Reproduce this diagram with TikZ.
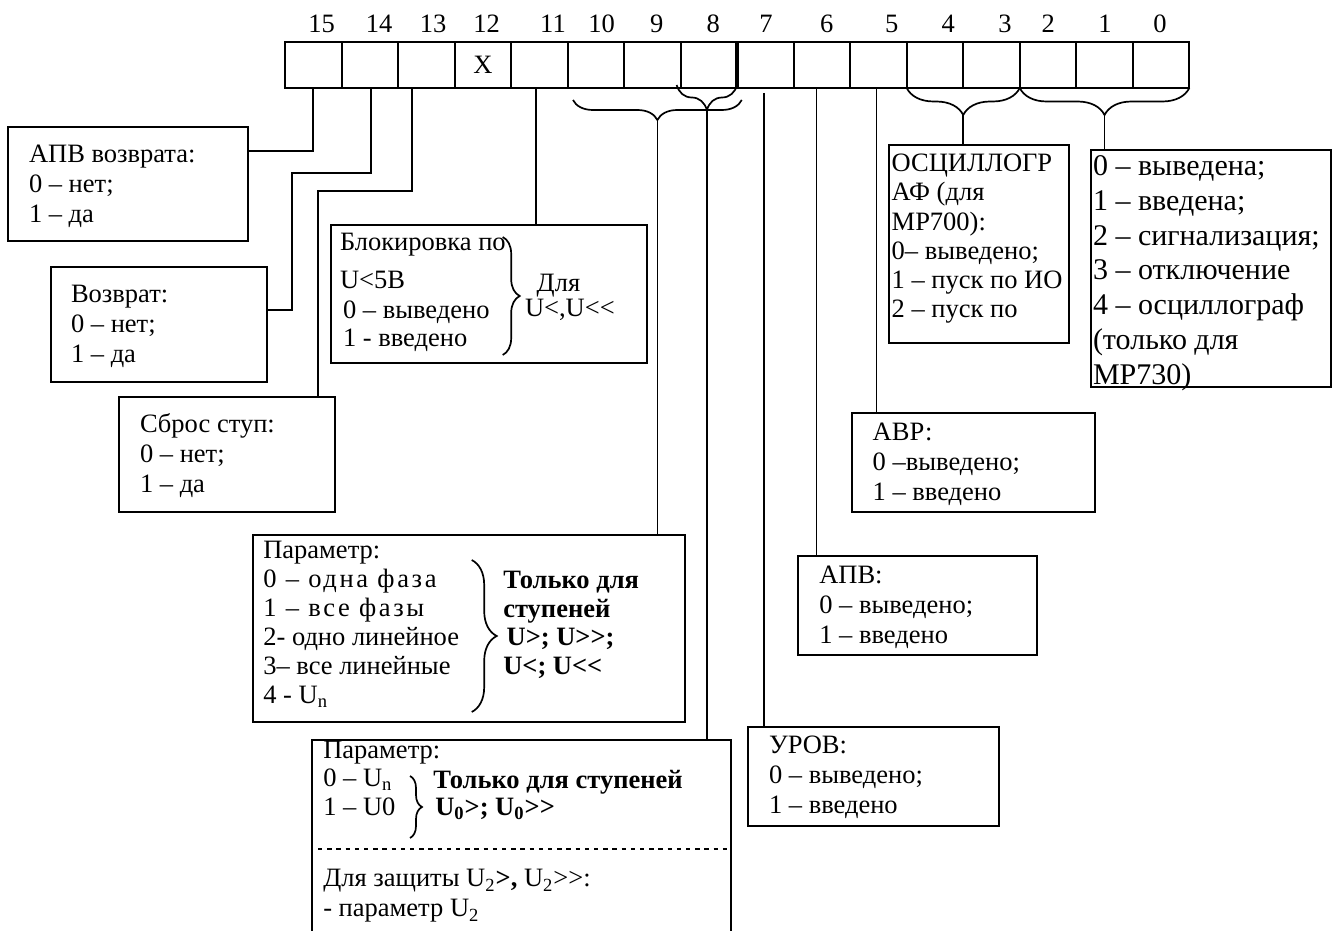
\documentclass[tikz,border=0pt]{standalone}
\usepackage{fontspec}
\setmainfont{Liberation Serif}
\usetikzlibrary{decorations.pathreplacing,fit,calc}
\newcommand{\bodyfnt}{\fontsize{13.25}{15}\selectfont}
\begin{document}
\begin{tikzpicture}[x=0.5pt,y=-0.5pt,
  every node/.style={font=\bodyfnt, inner sep=0pt, outer sep=0pt},
  box/.style={draw, line width=1pt, inner sep=0pt},
  cell/.style={draw, line width=1pt, minimum width=28.26pt, minimum height=23pt},
  conn/.style={line width=0.85pt},
  txt/.style={anchor=base west, align=left},
  lbl/.style={anchor=base},
  br/.style={decorate, decoration={brace, amplitude=#1}, line width=0.85pt}
]
\useasboundingbox (0,0) rectangle (1335,931);

% register
\foreach \i in {0,...,15}{
  \pgfmathsetmacro\cx{285+(15-\i)*56.52+28.26}
  \node[cell] (b\i) at (\cx,65) {};
}
\node (x12) at (b12.center) {X};
\draw[line width=2pt] (b8.north east) -- (b8.south east);

% bit labels
\foreach \i/\x in {15/321.7,14/379,13/433,12/486.7,11/553,10/601.7,9/656.7,8/713.3,7/766,6/826.7,5/891.7,4/948.3,3/1005,2/1048.3,1/1105,0/1160}{
  \node[lbl] (l\i) at (\x,33) {\i};
}

% braces under the register
\draw[br=12.5pt] ([yshift=1.5pt]b8.south east) -- ([xshift=-2pt,yshift=1.5pt]b8.south west);
\draw[br=10pt] ([xshift=2.3pt,yshift=-6pt]b8.south east) -- ([xshift=2.7pt,yshift=-6pt]b10.south west);
\draw[br=13.5pt] (b3.south east) -- (b4.south west);
\draw[br=13.5pt] (b0.south east) -- (b2.south west);
\coordinate (t8) at (707,110);
\coordinate (t10) at (657.5,120);
\coordinate (t43) at (963.3,115);
\coordinate (t20) at (1104.6,115);

% boxes
\node[box, fit={(8,127) (248,241)}] (apvv) {};
\node[box, fit={(51,267) (267,382)}] (vozv) {};
\node[box, fit={(119,397) (335,512)}] (sbros) {};
\node[box, fit={(331,225) (647,363)}] (blok) {};
\node[box, fit={(889,145) (1069,343)}] (osc) {};
\node[box, fit={(1091,150) (1331,386.7)}] (rej) {};
\node[box, fit={(852,413) (1095,512)}] (avr) {};
\node[box, fit={(798,556) (1037,655)}] (apv) {};
\node[box, fit={(748,727) (999,826)}] (urov) {};
\node[box, fit={(253,535) (685,721.7)}] (par1) {};
\node[fit={(312,740) (731,931)}, inner sep=0pt] (par2) {};
\draw[line width=1pt] (par2.south west) -- (par2.north west) -- (par2.north east) -- (par2.south east);

% texts (anchor = baseline of the last line)
\node[txt] (apvv-t) at (29,222.7) {АПВ возврата:\\0 – нет;\\1 – да};
\node[txt] (vozv-t) at (71,362.7) {Возврат:\\0 – нет;\\1 – да};
\node[txt] (sbros-t) at (140,492) {Сброс ступ:\\0 – нет;\\1 – да};

\node[txt] (bl1) at (340,250) {Блокировка по};
\node[txt] (bl2) at (340,288) {U<5В};
\node[txt] (bl3) at (343,318) {0 – выведено};
\node[txt] (bl4) at (343,346.7) {1 - введено};
\draw[br=8.5pt] (502.7,237) -- (502.7,355);
\node[txt] (bl5) at (536.7,291.7) {Для};
\node[txt] (bl6) at (525,316) {U<,U<{}<};

\node[txt, font=\fontsize{13.25}{14.6}\selectfont] (osc-t) at (891.7,317.7)
  {ОСЦИЛЛОГР\\АФ (для\\МР700):\\0– выведено;\\1 – пуск по ИО\\2 – пуск по};
\node[txt, font=\fontsize{15}{17.35}\selectfont] (rej-t) at (1093,384)
  {0 – выведена;\\1 – введена;\\2 – сигнализация;\\3 – отключение\\4 – осциллограф\\(только для\\МР730)};

\node[txt] (avr-t) at (872.7,500.7) {АВР:\\0 –выведено;\\1 – введено};
\node[txt] (apv-t) at (819.3,643.3) {АПВ:\\0 – выведено;\\1 – введено};
\node[txt] (urov-t) at (769,813.3) {УРОВ:\\0 – выведено;\\1 – введено};

\node[txt, font=\fontsize{13.25}{14.5}\selectfont] (par1-t) at (263.3,703.3)
  {Параметр:\\{\addfontfeature{LetterSpace=10}0 – одна фаза}\\{\addfontfeature{LetterSpace=10}1 – все фазы}\\2- одно линейное\\3– все линейные\\4 - U\textsubscript{n}};
\draw[br=12.5pt] (471.7,560) -- (471.7,712);
\node[txt, font=\fontsize{13.25}{14.4}\selectfont\bfseries] (par1-b) at (503.3,674.7)
  {Только для\\ступеней\\\hspace{1.7pt}U>; U>{}>;\\U<; U<{}<};

\node[txt, font=\fontsize{13.25}{14.2}\selectfont] (par2-t) at (323.3,815)
  {Параметр:\\0 – U\textsubscript{n}\\1 – U0};
\draw[br=6pt] (410,776) -- (410,838);
\node[txt, font=\fontsize{13.25}{13.35}\selectfont\bfseries] (par2-b) at (433.3,815)
  {Только для ступеней\\\hspace{1pt}U\textsubscript{0}>; U\textsubscript{0}>{}>};
\draw[line width=0.6pt, dash pattern=on 2.2pt off 2.4pt] (318,849) -- (par2.east |- 0,849);
\node[txt] (par2-u) at (323.3,916.7)
  {Для защиты U\textsubscript{2}\textbf{>,} U\textsubscript{2}>{}>:\\- параметр U\textsubscript{2}};

% connectors
\draw[conn] (b15.south) |- (apvv.east |- 0,151);
\draw[conn] ([xshift=0.45pt]b14.south) -- ++(0,85) -| (291.7,310) -- (vozv.east |- 0,310);
\draw[conn] ([xshift=-7.3pt]b13.south) -- ++(0,103) -| (sbros.north -| 318.3,0);
\draw[conn] ([xshift=-1.5pt]b11.south) -- ([xshift=-1.5pt]b11.south |- blok.north);
\draw[conn] (t10) -- (t10 |- par1.north);
\draw[conn] (t8) -- (t8 |- par2.north);
\draw[conn] ([xshift=-0.8pt,yshift=-2.5pt]b7.south) -- ([xshift=-0.8pt]b7.south |- urov.north);
\draw[conn] ([xshift=-2.7pt]b6.south) -- ([xshift=-2.7pt]b6.south |- apv.north);
\draw[conn] ([xshift=-1pt]b5.south) -- ([xshift=-1pt]b5.south |- avr.north);
\draw[conn] (t43) -- (t43 |- osc.north);
\draw[conn] (t20) -- (t20 |- rej.north);
\end{tikzpicture}
\end{document}
